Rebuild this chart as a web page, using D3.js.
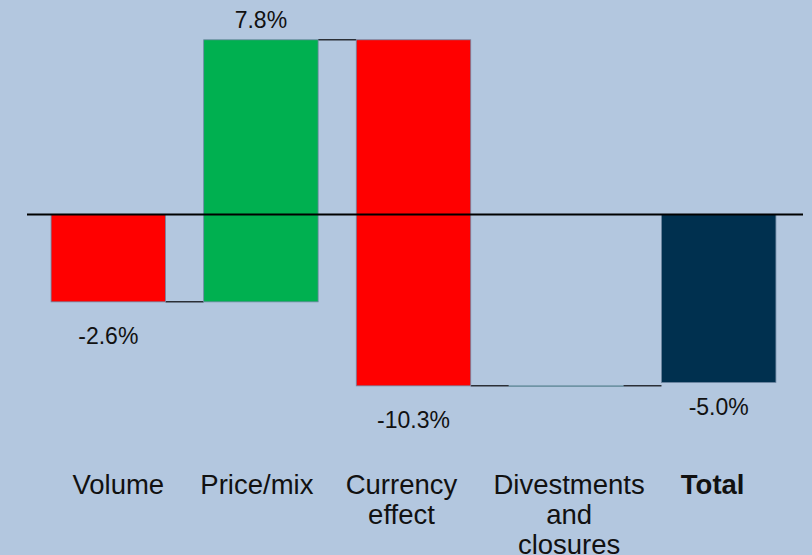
<!DOCTYPE html>
<html lang="en">
<head>
<meta charset="UTF-8">
<title>Waterfall</title>
<script src="https://cdn.jsdelivr.net/npm/d3@7"></script>
<style>
  html, body { margin: 0; padding: 0; background: #b3c7df; }
  svg { display: block; font-family: "Liberation Sans", Arial, sans-serif; }
</style>
</head>
<body>
<script>
// categories and changes in %
const categories = ['Volume', 'Price/mix', 'Currency effect', 'Divestments and closures', 'Total']
const labelLines = [['Volume'], ['Price/mix'], ['Currency', 'effect'], ['Divestments', 'and', 'closures'], ['Total']]
const changes = [-2.6, 7.8, -10.3, 0.0]
const totalValue = -5.0
const yTicks = [-6, 6]

const width = 812
const height = 555
// category labels are not quite centred under the bars in the original
const labelShift = [10, -4, -12, 3, -6]

const svg = d3.select('body')
  .append('svg')
  .attr('width', width)
  .attr('height', height)

svg.append('rect')
  .attr('width', width)
  .attr('height', height)
  .attr('fill', '#b3c7df')

// build start / end for every step
let running = 0
const steps = changes.map((v, i) => {
  const s = { name: categories[i], start: running, end: running + v, value: v, total: false }
  running += v
  return s
})
steps.push({ name: categories[4], start: 0, end: totalValue, value: totalValue, total: true })

const x = d3.scaleBand()
  .domain(categories)
  .range([32, 795])
  .paddingInner(0.25)
  .paddingOuter(0.125)

const y = d3.scaleLinear()
  .domain(yTicks)
  .range([214.5 + 6 * 33.6, 214.5 - 6 * 33.6])

const colour = d => d.total ? '#00304f' : (d.value >= 0 ? '#00b050' : '#ff0000')
const fmt = v => d3.format('.1f')(v).replace('\u2212', '-') + '%'

// connectors
const conn = svg.append('g')
steps.slice(0, -1).forEach((d, i) => {
  const next = steps[i + 1]
  conn.append('line')
    .attr('x1', x(d.name) + x.bandwidth())
    .attr('x2', x(next.name))
    .attr('y1', y(d.end))
    .attr('y2', y(d.end))
    .attr('stroke', '#2b2f36')
    .attr('stroke-width', 1.5)
})

// bars
svg.append('g')
  .selectAll('rect')
  .data(steps)
  .enter()
  .append('rect')
  .attr('x', d => x(d.name))
  .attr('width', x.bandwidth())
  .attr('y', d => y(Math.max(d.start, d.end)))
  .attr('height', d => Math.max(0.5, Math.abs(y(d.start) - y(d.end))))
  .attr('fill', d => colour(d))
  .attr('stroke', '#6f87a3')
  .attr('stroke-width', 0.8)

// zero line
svg.append('line')
  .attr('x1', x.range()[0] - 5)
  .attr('x2', x.range()[1] + 8)
  .attr('y1', y(0))
  .attr('y2', y(0))
  .attr('stroke', '#000')
  .attr('stroke-width', 2)

// value labels
svg.append('g')
  .selectAll('text')
  .data(steps.filter(d => d.value !== 0))
  .enter()
  .append('text')
  .attr('x', d => x(d.name) + x.bandwidth() / 2)
  .attr('y', d => {
    if (d.value > 0) return y(d.end) - 12
    return y(d.end) + (d.total ? 32 : 42)
  })
  .attr('text-anchor', 'middle')
  .attr('font-size', 23)
  .attr('fill', '#111')
  .text(d => fmt(d.value))

// category labels
const cat = svg.append('g')
categories.forEach((c, i) => {
  const cx = x(c) + x.bandwidth() / 2 + labelShift[i]
  const t = cat.append('text')
    .attr('x', cx)
    .attr('y', 494)
    .attr('text-anchor', 'middle')
    .attr('font-size', 27.5)
    .attr('font-weight', c === 'Total' ? 'bold' : 'normal')
    .attr('fill', '#111')
  labelLines[i].forEach((line, j) => {
    t.append('tspan')
      .attr('x', cx)
      .attr('dy', j === 0 ? 0 : 30)
      .text(line)
  })
})
</script>
</body>
</html>
